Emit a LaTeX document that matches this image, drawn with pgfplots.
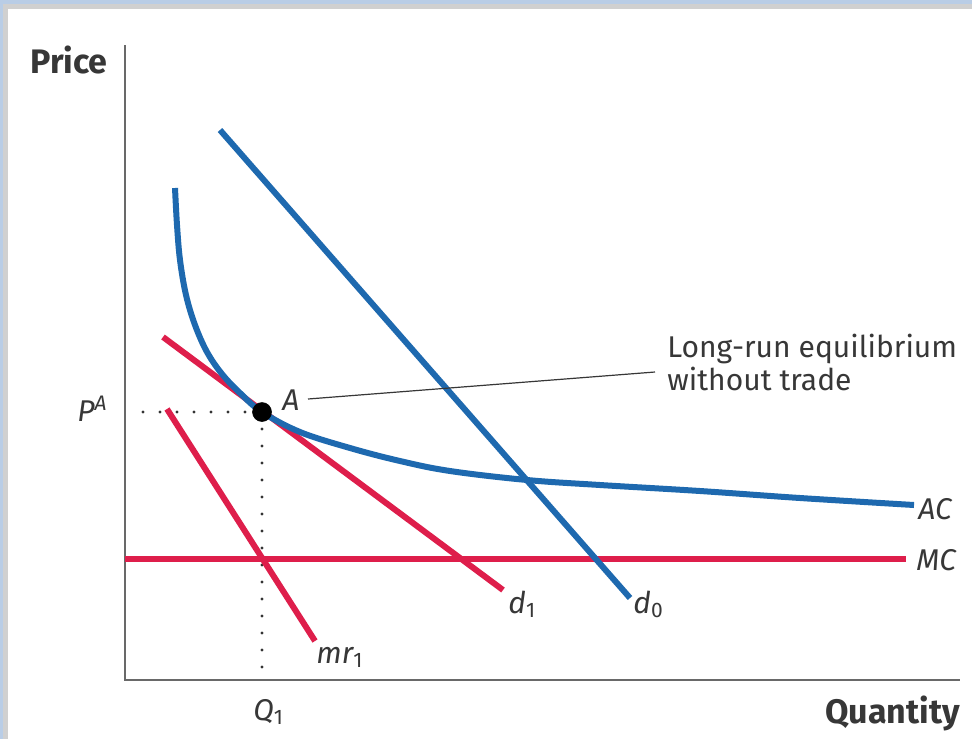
\documentclass[border=0pt]{standalone}
\usepackage{pgfplots}
\pgfplotsset{compat=1.18}
\usepackage{fontspec}
\setmainfont{Fira Sans}
\definecolor{econblue}{RGB}{30,105,175}
\definecolor{econred}{RGB}{222,30,75}
\definecolor{axisgray}{RGB}{105,105,105}
\definecolor{framegray}{RGB}{208,208,208}
\definecolor{frameblue}{RGB}{185,205,230}
\definecolor{txt}{RGB}{55,55,55}

\begin{document}
\begin{tikzpicture}
\begin{axis}[
  scale only axis, x=0.5pt, y=0.5pt,
  xmin=0, xmax=972, ymin=0, ymax=739,
  y dir=reverse,
  axis lines=none, clip=false,
]
% frame of the page
\fill[white] (0,0) rectangle (972,739);
\fill[framegray] (0,0) rectangle (8,739);
\fill[framegray] (0,0) rectangle (972,9);
\fill[frameblue] (0,0) rectangle (3,739);
\fill[frameblue] (0,0) rectangle (972,4);

% axes
\addplot[axisgray, line width=1pt, line join=miter] coordinates {(125,45) (125,680) (960,680)};

% dotted guides
\addplot[black!80, line width=1.7pt, line cap=round, dash pattern=on 0pt off 8.5pt]
  coordinates {(262,412) (135,412)};
\addplot[black!80, line width=1.7pt, line cap=round, dash pattern=on 0pt off 8.5pt]
  coordinates {(262,412) (262,672)};

% MC
\addplot[econred, line width=3pt] coordinates {(125,559) (906,559)};
% mr1
\addplot[econred, line width=3pt] coordinates {(167,409) (315,641)};
% d1
\addplot[econred, line width=3pt] coordinates {(163,337) (503,590)};
% d0
\addplot[econblue, line width=3pt] coordinates {(220,130) (630,598)};
% AC
\addplot[econblue, line width=3pt, smooth, tension=0.6] coordinates {
  (175,188) (177,225) (180,260) (186,295) (195,325) (207,352) (222,374)
  (240,393) (262,412) (300,432) (350,448) (400,461) (450,471) (527,480)
  (600,485) (700,491) (800,498) (914,505)
};

% leader line and point A
\addplot[txt, line width=0.6pt] coordinates {(308,399) (655,372)};
\addplot[only marks, mark=*, mark size=4.7pt, black] coordinates {(262,412)};

% labels
\node[txt, font=\bfseries\fontsize{17}{19}\selectfont, anchor=base east, inner sep=0pt] at (108,73) {Price};
\node[txt, font=\bfseries\fontsize{17}{19}\selectfont, anchor=base east, inner sep=0pt] at (960,723) {Quantity};
\node[txt, font=\itshape\fontsize{15}{17}\selectfont, anchor=base west, inner sep=0pt] at (918,519) {AC};
\node[txt, font=\itshape\fontsize{15}{17}\selectfont, anchor=base west, inner sep=0pt] at (916,570) {MC};
\node[txt, font=\itshape\fontsize{15}{17}\selectfont, anchor=base west, inner sep=0pt] at (508,613) {d\textsubscript{\upshape 1}};
\node[txt, font=\itshape\fontsize{15}{17}\selectfont, anchor=base west, inner sep=0pt] at (633,613) {d\textsubscript{\upshape 0}};
\node[txt, font=\itshape\fontsize{15}{17}\selectfont, anchor=base west, inner sep=0pt] at (316,663) {mr\textsubscript{\upshape 1}};
\node[txt, font=\itshape\fontsize{15}{17}\selectfont, anchor=base west, inner sep=0pt] at (253,720) {Q\textsubscript{\upshape 1}};
\node[txt, font=\itshape\fontsize{15}{17}\selectfont, anchor=base west, inner sep=0pt] at (282,410) {A};
\node[txt, font=\itshape\fontsize{15}{17}\selectfont, anchor=base east, inner sep=0pt] at (108,421) {P\textsuperscript{A}};
\node[txt, font=\fontsize{15}{17}\selectfont, anchor=base west, inner sep=0pt] at (667,357) {Long-run equilibrium};
\node[txt, font=\fontsize{15}{17}\selectfont, anchor=base west, inner sep=0pt] at (667,390) {without trade};
\end{axis}
\end{tikzpicture}
\end{document}
